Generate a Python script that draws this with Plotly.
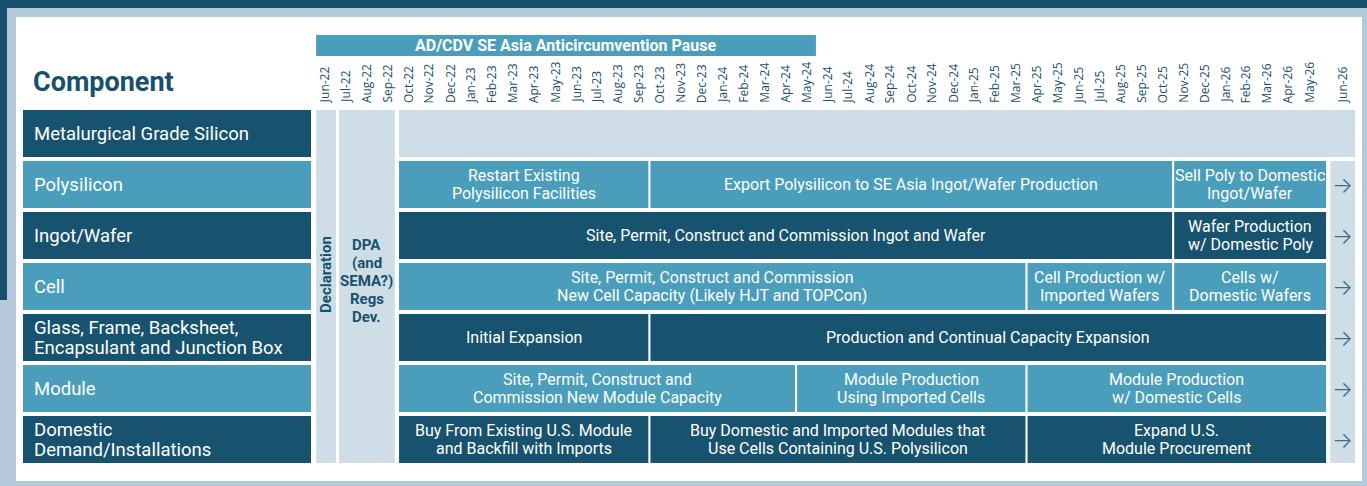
import plotly.graph_objects as go

# ---- data -------------------------------------------------------------
MONTHS = [
    "Jun-22", "Jul-22", "Aug-22", "Sep-22", "Oct-22", "Nov-22", "Dec-22",
    "Jan-23", "Feb-23", "Mar-23", "Apr-23", "May-23", "Jun-23", "Jul-23",
    "Aug-23", "Sep-23", "Oct-23", "Nov-23", "Dec-23", "Jan-24", "Feb-24",
    "Mar-24", "Apr-24", "May-24", "Jun-24", "Jul-24", "Aug-24", "Sep-24",
    "Oct-24", "Nov-24", "Dec-24", "Jan-25", "Feb-25", "Mar-25", "Apr-25",
    "May-25", "Jun-25", "Jul-25", "Aug-25", "Sep-25", "Oct-25", "Nov-25",
    "Dec-25", "Jan-26", "Feb-26", "Mar-26", "Apr-26", "May-26", "Jun-26",
]

COMPONENTS = [
    "Metalurgical Grade Silicon",
    "Polysilicon",
    "Ingot/Wafer",
    "Cell",
    "Glass, Frame, Backsheet,<br>Encapsulant and Junction Box",
    "Module",
    "Domestic<br>Demand/Installations",
]

PAUSE = ("AD/CDV SE Asia Anticircumvention Pause", "Jun-22", "May-24")
DECLARATION = ("Declaration", "Jun-22", "Jun-22")
DPA = ("DPA<br>(and<br>SEMA?)<br>Regs<br>Dev.", "Jul-22", "Sep-22")

POLY_TASKS = [
    ("Restart Existing<br>Polysilicon Facilities", "Oct-22", "Sep-23"),
    ("Export Polysilicon to SE Asia Ingot/Wafer Production", "Oct-23", "Oct-25"),
    ("Sell Poly to Domestic<br>Ingot/Wafer", "Nov-25", "May-26"),
]
INGOT_TASKS = [
    ("Site, Permit, Construct and Commission Ingot and Wafer", "Oct-22", "Oct-25"),
    ("Wafer Production<br>w/ Domestic Poly", "Nov-25", "May-26"),
]
CELL_TASKS = [
    ("Site, Permit, Construct and Commission<br>New Cell Capacity (Likely HJT and TOPCon)", "Oct-22", "Mar-25"),
    ("Cell Production w/<br>Imported Wafers", "Apr-25", "Oct-25"),
    ("Cells w/<br>Domestic Wafers", "Nov-25", "May-26"),
]
BOS_TASKS = [
    ("Initial Expansion", "Oct-22", "Sep-23"),
    ("Production and Continual Capacity Expansion", "Oct-23", "May-26"),
]
MODULE_TASKS = [
    ("Site, Permit, Construct and<br>Commission New Module Capacity", "Oct-22", "Apr-24"),
    ("Module Production<br>Using Imported Cells", "May-24", "Mar-25"),
    ("Module Production<br>w/ Domestic Cells", "Apr-25", "May-26"),
]
DEMAND_TASKS = [
    ("Buy From Existing U.S. Module<br>and Backfill with Imports", "Oct-22", "Sep-23"),
    ("Buy Domestic and Imported Modules that<br>Use Cells Containing U.S. Polysilicon", "Oct-23", "Mar-25"),
    ("Expand U.S.<br>Module Procurement", "Apr-25", "May-26"),
]
ROW_TASKS = [[], POLY_TASKS, INGOT_TASKS, CELL_TASKS, BOS_TASKS, MODULE_TASKS, DEMAND_TASKS]

# ---- styling ----------------------------------------------------------
W, H = 1367, 486
DARK = "#17526E"
LIGHT = "#4A9EBC"
GREY = "#CFDDE6"
FRAME = "#B4C9D9"
NAVY = "#17506C"
FONT = "Roboto, sans-serif"

PX0, PXM = 314.2, 20.95     # pixel of month 0, pixels per month
RY0, RYP = 133.5, 51.0      # pixel of row 0 centre, pixels per row
HALF = 0.46                 # half row height in row units
GAP = 0.05                  # gap between cells, months
LAST_BAR_END = 48.35        # bars run a little past the May-26 column
ARROW_COL = (48.5, 49.68)   # the Jun-26 arrow column


def xp(px):
    return px / W


def yp(py):
    return 1 - py / H


def m(label):
    return MONTHS.index(label)


def m_end(label):
    return LAST_BAR_END if label == MONTHS[-2] else m(label) + 1


fig = go.Figure(go.Scatter(x=[], y=[], hoverinfo="skip", showlegend=False))
shapes, annots = [], []


def rect(x0, x1, y0, y1, color, xref="x", yref="y"):
    shapes.append(dict(type="rect", xref=xref, yref=yref, x0=x0, x1=x1, y0=y0, y1=y1,
                       fillcolor=color, line_width=0, layer="above"))


def text(t, x, y, size, color="white", xref="x", yref="y", xanchor="center",
         spacing=18, weight="normal", family=FONT, angle=0):
    lines = t.split("<br>")
    n = len(lines)
    for i, ln in enumerate(lines):
        annots.append(dict(text=ln, x=x, y=y, xref=xref, yref=yref, showarrow=False,
                           xanchor=xanchor, yanchor="middle", textangle=angle,
                           yshift=((n - 1) / 2 - i) * spacing,
                           font=dict(family=family, size=size, color=color, weight=weight)))


# frame
rect(0, 1, 1, 0, FRAME, "paper", "paper")
rect(0, 1, yp(0), yp(8), NAVY, "paper", "paper")
rect(0, xp(7), yp(0), yp(300), NAVY, "paper", "paper")
rect(xp(16), xp(1362), yp(17), yp(481), "white", "paper", "paper")

# header
text("Component", xp(31), yp(82), 27, NAVY, "paper", "paper", "left", weight="bold")
rect(m(PAUSE[1]) + 0.09, m_end(PAUSE[2]) - 0.05, yp(35), yp(56), LIGHT, "x", "paper")
text(PAUSE[0], (m(PAUSE[1]) + m_end(PAUSE[2])) / 2, yp(45.5), 16, "white", "x", "paper",
     weight="bold")
for i, lab in enumerate(MONTHS):
    cx = i + 0.5 if i < len(MONTHS) - 1 else sum(ARROW_COL) / 2
    annots.append(dict(text=lab, x=cx, y=yp(105), xref="x", yref="paper", showarrow=False,
                       textangle=-90, xanchor="center", yanchor="bottom",
                       font=dict(family="Open Sans, sans-serif", size=12, color=NAVY)))

# component labels
n_rows = len(COMPONENTS)
for r, comp in enumerate(COMPONENTS):
    col = DARK if r % 2 == 0 else LIGHT
    rect(xp(23), xp(311), r - HALF, r + HALF, col, "paper", "y")
    text(comp, xp(32), r, 18.5, "white", "paper", "y", "left", spacing=20)

# declaration / DPA columns
rect(m(DECLARATION[1]) + 0.09, m_end(DECLARATION[2]) + 0.04, -HALF, n_rows - 1 + HALF, GREY)
rect(m(DPA[1]) + 0.18, m_end(DPA[2]) - 0.15, -HALF, n_rows - 1 + HALF, GREY)
text(DECLARATION[0], m(DECLARATION[1]) + 0.56, 2.755, 15, DARK, weight="bold", angle=-90)
text(DPA[0], (m(DPA[1]) + 0.18 + m_end(DPA[2]) - 0.15) / 2, 2.89, 15, DARK,
     weight="bold", spacing=17.9)

# metallurgical row (empty grey) and arrow column
rect(m("Oct-22") + GAP, ARROW_COL[1], -HALF, HALF, GREY)
rect(ARROW_COL[0], ARROW_COL[1], 1 - HALF, n_rows - 1 + HALF, GREY)

# activity cells
for r, tasks in enumerate(ROW_TASKS):
    col = DARK if r % 2 == 0 else LIGHT
    for lab, s, e in tasks:
        x0, x1 = m(s) + GAP, m_end(e) - GAP
        rect(x0, x1, r - HALF, r + HALF, col)
        text(lab, (x0 + x1) / 2, r, 16)
    if r >= 1:
        text("→", sum(ARROW_COL) / 2, r, 22, "#3B6F8C", family="Inter, sans-serif",
             weight=300)

fig.update_layout(
    width=W, height=H,
    margin=dict(l=0, r=0, t=0, b=0),
    paper_bgcolor=FRAME, plot_bgcolor="rgba(0,0,0,0)",
    xaxis=dict(range=[-PX0 / PXM, (W - PX0) / PXM], visible=False, fixedrange=True),
    yaxis=dict(range=[(H - RY0) / RYP, -RY0 / RYP], visible=False, fixedrange=True),
    shapes=shapes, annotations=annots, showlegend=False,
)
fig.write_html("out.html", config={"displayModeBar": False},
               post_script="document.body.style.margin = '0';")
